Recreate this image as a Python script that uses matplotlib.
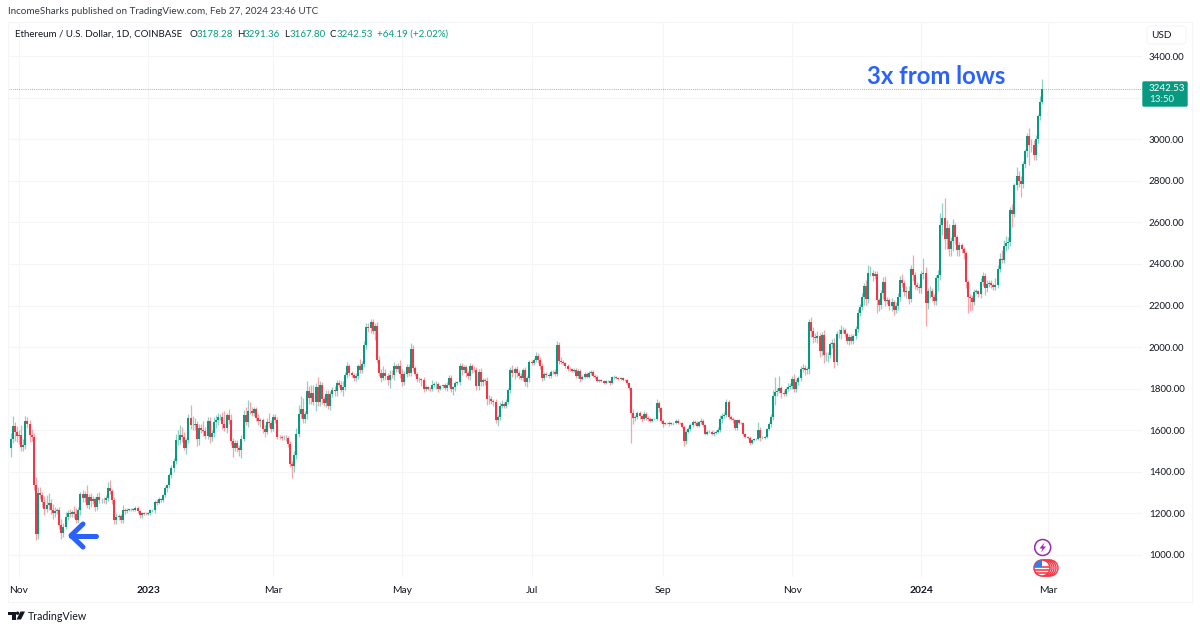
"""ETH/USD daily candles, TradingView snapshot layout."""

import matplotlib as mpl

mpl.use("Agg")
import matplotlib.pyplot as plt
import numpy as np
import pandas as pd
from matplotlib.patches import Circle, FancyBboxPatch, Polygon, Rectangle

W, H = 1200, 631
GREEN = "#089981"
RED = "#f23645"
BLUE = "#2962ff"
GRID = "#f3f5f9"
TEXT = "#131722"
FONT = ["Lato", "DejaVu Sans"]

first_day = "2022-10-27"
first_open = 1530

# closes, month by month
closes = [
    1515, 1556, 1620, 1590, 1572,
    1578, 1520, 1530, 1645, 1630, 1575, 1568, 1335, 1100, 1298, 1287, 1257, 1220, 1240, 1252, 1216, 1200, 1213, 1218, 1142, 1108, 1135, 1184, 1203, 1198, 1206, 1195, 1168, 1218, 1295,
    1275, 1293, 1241, 1280, 1260, 1270, 1232, 1281, 1265, 1266, 1263, 1275, 1320, 1309, 1266, 1166, 1184, 1187, 1167, 1217, 1212, 1218, 1219, 1221, 1218, 1227, 1212, 1190, 1200, 1199, 1197,
    1200, 1215, 1215, 1256, 1251, 1268, 1264, 1288, 1320, 1335, 1384, 1420, 1451, 1551, 1552, 1577, 1567, 1514, 1552, 1660, 1627, 1627, 1629, 1556, 1612, 1603, 1597, 1573, 1646, 1566, 1586,
    1642, 1648, 1664, 1665, 1631, 1613, 1672, 1650, 1546, 1514, 1539, 1515, 1506, 1556, 1674, 1640, 1694, 1691, 1682, 1703, 1660, 1643, 1650, 1605, 1594, 1642, 1634, 1605,
    1663, 1647, 1569, 1567, 1564, 1564, 1562, 1534, 1438, 1430, 1480, 1583, 1680, 1704, 1656, 1676, 1790, 1757, 1780, 1735, 1806, 1736, 1816, 1752, 1733, 1776, 1717, 1773, 1795, 1790, 1825,
    1820, 1795, 1810, 1866, 1909, 1875, 1866, 1849, 1860, 1911, 1892, 1918, 2012, 2098, 2092, 2120, 2076, 2100, 1937, 1875, 1850, 1877, 1862, 1840, 1868, 1866, 1909, 1893, 1907, 1870,
    1831, 1871, 1905, 1877, 1993, 1900, 1872, 1848, 1847, 1842, 1798, 1807, 1800, 1799, 1820, 1822, 1823, 1800, 1812, 1816, 1805, 1819, 1851, 1797, 1806, 1828, 1830, 1909, 1891, 1903, 1874,
    1862, 1907, 1892, 1891, 1813, 1880, 1831, 1841, 1839, 1752, 1752, 1740, 1738, 1650, 1665, 1718, 1727, 1718, 1737, 1792, 1890, 1875, 1895, 1874, 1860, 1850, 1890, 1830, 1852, 1930,
    1923, 1937, 1955, 1937, 1909, 1850, 1869, 1866, 1862, 1879, 1880, 1870, 2008, 1935, 1930, 1922, 1909, 1897, 1893, 1886, 1891, 1860, 1885, 1848, 1857, 1871, 1858, 1875, 1880, 1863, 1856,
    1839, 1840, 1838, 1827, 1835, 1836, 1826, 1855, 1855, 1850, 1848, 1850, 1843, 1840, 1826, 1805, 1685, 1660, 1665, 1683, 1667, 1655, 1680, 1660, 1654, 1645, 1655, 1655, 1730, 1705, 1646,
    1630, 1636, 1635, 1630, 1633, 1635, 1646, 1636, 1635, 1618, 1550, 1592, 1607, 1626, 1640, 1635, 1622, 1640, 1645, 1623, 1584, 1593, 1594, 1582, 1588, 1594, 1600, 1652, 1669, 1671,
    1734, 1664, 1656, 1647, 1611, 1647, 1634, 1633, 1580, 1568, 1565, 1540, 1552, 1556, 1558, 1600, 1565, 1565, 1567, 1605, 1630, 1665, 1763, 1785, 1788, 1803, 1778, 1775, 1800, 1810, 1815,
    1847, 1800, 1833, 1853, 1895, 1900, 1888, 1893, 2120, 2078, 2050, 2045, 2052, 1980, 2060, 1960, 1960, 1963, 2013, 2022, 1930, 2063, 2062, 2082, 2083, 2064, 2028, 2048, 2029, 2052,
    2088, 2165, 2192, 2243, 2294, 2231, 2358, 2358, 2343, 2352, 2225, 2202, 2260, 2315, 2220, 2225, 2197, 2217, 2177, 2200, 2240, 2325, 2310, 2267, 2272, 2230, 2378, 2345, 2300, 2290, 2282,
    2352, 2355, 2210, 2268, 2269, 2240, 2221, 2330, 2345, 2585, 2620, 2520, 2575, 2470, 2510, 2585, 2530, 2467, 2490, 2470, 2455, 2313, 2240, 2235, 2217, 2267, 2268, 2255, 2315, 2343, 2283,
    2303, 2310, 2298, 2290, 2300, 2375, 2425, 2420, 2486, 2500, 2505, 2660, 2640, 2780, 2824, 2800, 2785, 2880, 2945, 3015, 2970, 2970, 2922, 3000, 3112, 3178.28, 3242.53,
]

# wick length above the body of each candle
upper_wicks = [
    40, 30, 50, 20, 30,
    25, 45, 30, 25, 20, 20, 30, 20, 40, 30, 30, 15, 25, 50, 45, 15, 30, 20, 10, 15, 30, 20, 25, 15, 20, 10, 30, 30, 15, 10,
    20, 15, 45, 15, 20, 15, 10, 15, 20, 10, 15, 15, 30, 40, 10, 15, 20, 10, 12, 25, 10, 8, 6, 5, 6, 8, 8, 6, 8, 8, 6,
    6, 8, 8, 10, 12, 10, 8, 6, 12, 8, 10, 12, 15, 30, 50, 50, 40, 25, 10, 20, 60, 40, 30, 15, 20, 20, 40, 20, 20, 20, 15,
    20, 25, 20, 15, 25, 60, 10, 30, 30, 15, 15, 15, 15, 20, 25, 40, 50, 40, 20, 10, 10, 20, 10, 10, 20, 15, 40, 15,
    15, 15, 15, 10, 10, 15, 15, 12, 15, 15, 20, 30, 40, 60, 50, 15, 45, 25, 40, 40, 20, 50, 20, 15, 15, 20, 20, 15, 15, 20, 15,
    15, 15, 25, 15, 20, 10, 10, 10, 15, 10, 30, 15, 15, 20, 20, 15, 15, 15, 20, 20, 20, 30, 20, 15, 20, 20, 20, 10, 15, 30,
    25, 15, 15, 15, 27, 15, 10, 10, 10, 5, 15, 10, 8, 8, 20, 8, 15, 10, 8, 8, 10, 15, 15, 15, 8, 10, 5, 15, 15, 10, 10,
    10, 15, 10, 15, 15, 15, 20, 10, 10, 15, 20, 15, 10, 10, 10, 20, 20, 10, 15, 12, 15, 25, 10, 15, 15, 15, 10, 15, 10, 10,
    10, 10, 20, 15, 15, 15, 10, 10, 10, 10, 10, 15, 20, 15, 15, 10, 8, 8, 8, 8, 8, 8, 8, 8, 8, 8, 8, 8, 8, 8, 8,
    10, 8, 5, 5, 5, 5, 8, 8, 10, 5, 5, 4, 5, 5, 5, 5, 3, 15, 10, 10, 8, 8, 15, 10, 8, 8, 6, 5, 20, 10, 5,
    10, 6, 6, 8, 6, 5, 8, 8, 4, 5, 8, 8, 8, 8, 8, 8, 8, 5, 12, 10, 6, 8, 5, 8, 8, 6, 18, 20, 15, 15,
    16, 10, 8, 8, 6, 8, 5, 5, 5, 6, 6, 6, 5, 6, 5, 40, 15, 8, 6, 8, 12, 15, 30, 70, 15, 60, 10, 15, 10, 15, 10,
    12, 25, 15, 10, 15, 20, 15, 10, 15, 25, 20, 20, 25, 15, 15, 20, 15, 15, 12, 15, 20, 15, 25, 25, 15, 10, 10, 15, 15, 10,
    15, 20, 15, 15, 15, 30, 35, 30, 15, 15, 15, 10, 15, 20, 25, 15, 10, 20, 10, 15, 20, 15, 25, 15, 20, 20, 15, 67, 15, 15, 15,
    15, 75, 30, 15, 25, 15, 15, 15, 25, 60, 72, 96, 35, 15, 20, 30, 10, 10, 15, 10, 10, 5, 8, 15, 15, 12, 10, 8, 15, 20, 15,
    20, 15, 12, 10, 30, 20, 30, 40, 30, 35, 25, 15, 30, 8, 40, 25, 25, 15, 10, 15, 40, 30, 25, 20, 10, 30, 48.83,
]

# wick length below the body of each candle
lower_wicks = [
    30, 45, 15, 40, 30,
    40, 20, 20, 20, 20, 30, 20, 20, 30, 25, 20, 25, 30, 15, 25, 20, 25, 15, 15, 15, 33, 20, 10, 15, 15, 15, 15, 15, 15, 25,
    20, 20, 15, 20, 30, 15, 20, 15, 15, 15, 15, 20, 15, 15, 20, 15, 15, 15, 15, 15, 15, 10, 8, 6, 8, 6, 8, 10, 12, 6, 6,
    6, 8, 6, 12, 10, 8, 8, 8, 10, 15, 15, 15, 20, 15, 20, 20, 25, 10, 30, 15, 20, 25, 25, 30, 25, 15, 25, 15, 15, 25, 20,
    20, 30, 25, 15, 25, 15, 25, 20, 15, 45, 15, 20, 30, 40, 10, 15, 25, 15, 15, 15, 15, 20, 25, 20, 25, 10, 20, 15,
    10, 12, 12, 10, 10, 10, 12, 15, 15, 60, 30, 20, 15, 20, 20, 20, 20, 30, 30, 15, 40, 20, 20, 25, 15, 20, 15, 20, 15, 25, 25,
    10, 10, 30, 15, 15, 15, 10, 10, 12, 15, 15, 15, 15, 20, 20, 25, 15, 40, 15, 15, 20, 10, 20, 20, 35, 15, 25, 15, 15, 20,
    20, 15, 15, 15, 15, 15, 10, 15, 15, 30, 15, 10, 8, 8, 10, 10, 25, 15, 8, 8, 10, 15, 10, 15, 25, 15, 10, 10, 25, 15, 20,
    15, 20, 15, 10, 20, 20, 20, 20, 20, 30, 25, 15, 20, 15, 30, 15, 10, 10, 10, 10, 15, 20, 30, 20, 15, 10, 15, 15, 20, 20,
    10, 10, 10, 15, 15, 15, 10, 10, 10, 10, 10, 8, 10, 15, 10, 10, 10, 10, 8, 8, 8, 8, 8, 15, 8, 8, 8, 8, 8, 8, 8,
    8, 8, 5, 5, 5, 5, 8, 5, 8, 5, 5, 4, 5, 5, 8, 10, 145, 30, 15, 10, 15, 15, 8, 10, 10, 5, 5, 5, 8, 15, 12,
    12, 6, 5, 8, 5, 8, 6, 8, 4, 8, 25, 15, 6, 10, 8, 8, 8, 8, 10, 8, 6, 8, 4, 6, 8, 6, 8, 8, 15, 8,
    6, 12, 8, 10, 8, 8, 6, 5, 8, 6, 6, 12, 6, 6, 5, 6, 15, 8, 8, 6, 6, 12, 15, 40, 20, 10, 25, 12, 10, 10, 10,
    15, 15, 15, 15, 15, 15, 20, 15, 20, 30, 30, 20, 25, 30, 25, 35, 25, 30, 15, 15, 30, 15, 20, 25, 15, 15, 15, 20, 15, 15,
    15, 15, 15, 15, 40, 30, 20, 15, 25, 15, 60, 30, 20, 30, 20, 15, 20, 25, 25, 15, 20, 20, 20, 20, 30, 25, 15, 25, 20, 15, 20,
    20, 25, 110, 25, 30, 20, 20, 20, 60, 20, 45, 50, 50, 30, 30, 50, 35, 30, 30, 15, 30, 30, 75, 60, 40, 15, 12, 15, 20, 20, 30,
    20, 15, 15, 15, 15, 15, 15, 15, 15, 25, 30, 20, 60, 15, 25, 30, 62, 20, 20, 30, 95, 30, 22, 20, 20, 20, 10.48,
]

price_ticks = [1000, 1200, 1400, 1600, 1800, 2000, 2200, 2400, 2600, 2800, 3000, 3200, 3400]
month_ticks = ["2022-11-01", "2023-01-01", "2023-03-01", "2023-05-01", "2023-07-01", "2023-09-01", "2023-11-01", "2024-01-01", "2024-03-01"]
month_labels = ["Nov", "2023", "Mar", "May", "Jul", "Sep", "Nov", "2024", "Mar"]
last_price = 3242.53

legend_parts = [
    (15, "Ethereum / U.S. Dollar, 1D, COINBASE", TEXT),
    (189, "O", TEXT), (197, "3178.28", GREEN),
    (237, "H", TEXT), (244, "3291.36", GREEN),
    (284, "L", TEXT), (290, "3167.80", GREEN),
    (330, "C", TEXT), (337, "3242.53", GREEN),
    (377, "+64.19 (+2.02%)", GREEN),
]

closes = np.array(closes, dtype=float)
opens = np.r_[first_open, closes[:-1]]
highs = np.maximum(opens, closes) + np.array(upper_wicks)
lows = np.minimum(opens, closes) - np.array(lower_wicks)
dates = pd.date_range(first_day, periods=len(closes), freq="D")
origin = pd.Timestamp("2022-11-01")
days = (dates - origin).days.to_numpy()

fig = plt.figure(figsize=(W / 100, H / 100), dpi=100, facecolor="white")

# plot box in pixels: x 8..1142, y 22..577
ax = fig.add_axes([8 / W, 1 - 577 / H, (1142 - 8) / W, (577 - 22) / H])
px_per_day = 2.118
px_per_usd = 0.2079
ax.set_xlim((8 - 19) / px_per_day, (1142 - 19) / px_per_day)
ax.set_ylim(1000 + (555 - 577) / px_per_usd, 1000 + (555 - 22) / px_per_usd)

up = closes >= opens
for mask, color in ((up, GREEN), (~up, RED)):
    ax.vlines(days[mask], lows[mask], highs[mask], color=color, lw=0.9, alpha=0.45, zorder=3)
    seg = ax.vlines(days[mask], np.minimum(opens, closes)[mask], np.maximum(opens, closes)[mask],
                    color=color, lw=1.45, zorder=4)
    seg.set_capstyle("butt")

ax.axhline(last_price, color=GREEN, lw=0.7, ls=(0, (1, 1.2)), alpha=0.55, zorder=2)

ax.yaxis.tick_right()
ax.set_yticks(price_ticks)
# the price tag covers the 3200 label in the original
ax.set_yticklabels(["" if p == 3200 else f"{p:.2f}" for p in price_ticks], fontsize=7, color=TEXT, family=FONT)
ax.set_xticks([(pd.Timestamp(m) - origin).days for m in month_ticks])
ax.set_xticklabels(month_labels, fontsize=7.4, color=TEXT, family=FONT)
for lab, text in zip(ax.get_xticklabels(), month_labels):
    if text.startswith("20"):
        lab.set_fontweight("bold")
ax.tick_params(length=0, axis="y", pad=5)
ax.tick_params(length=0, axis="x", pad=6.5)
ax.grid(True, color=GRID, lw=0.8, zorder=0)
ax.set_axisbelow(True)
for side in ax.spines.values():
    side.set_visible(False)

# everything that is not a data mark goes on a pixel-space overlay
ov = fig.add_axes([0, 0, 1, 1], zorder=5)
ov.set_xlim(0, W)
ov.set_ylim(H, 0)
ov.axis("off")
ov.patch.set_alpha(0)

ov.add_patch(Rectangle((8, 22), 1184, 580, fill=False, ec=GRID, lw=0.8))
ov.text(8, 12, "IncomeSharks published on TradingView.com, Feb 27, 2024 23:46 UTC",
        fontsize=7.15, color="#363a45", va="center", family=FONT)
for x, part, color in legend_parts:
    ov.text(x, 34.5, part, fontsize=7, color=color, va="center", family=FONT)

ov.add_patch(FancyBboxPatch((1147, 26), 39, 18, boxstyle="round,pad=0,rounding_size=3", fc="white", ec=GRID, lw=0.8))
ov.text(1161, 35, "USD", fontsize=7.2, color=TEXT, va="center", ha="center", family=FONT)

ov.add_patch(FancyBboxPatch((1143, 82), 44, 24, boxstyle="round,pad=0,rounding_size=1", fc=GREEN, ec=GREEN, lw=1))
ov.text(1149, 88.5, f"{last_price:.2f}", fontsize=7, color="white", va="center", family=FONT)
ov.text(1149, 100, "13:50", fontsize=7, color="white", va="center", family=FONT, alpha=0.9)

ov.text(867, 77, "3x from lows", fontsize=17.2, color=BLUE, va="center", family=FONT, fontweight="bold")

# hand-drawn arrow at the low
ov.plot([71, 96], [535.5, 535.5], color=BLUE, lw=3.6, solid_capstyle="round")
ov.plot([83, 71, 83], [524, 535.5, 547], color=BLUE, lw=3.6, solid_capstyle="round", solid_joinstyle="round")

# logo and wordmark
ov.add_patch(Polygon([(8, 611.5), (15.5, 611.5), (15.5, 619.5), (12, 619.5), (12, 615), (8, 615)], fc=TEXT, ec="none"))
ov.add_patch(Circle((17.6, 613.2), 1.7, fc=TEXT, ec="none"))
ov.add_patch(Polygon([(20.5, 611.5), (25, 611.5), (21, 619.5), (16.5, 619.5)], fc=TEXT, ec="none"))
ov.text(28, 616, "TradingView", fontsize=7.7, color=TEXT, va="center", family=FONT)

# event icons near the last bar
ov.add_patch(Circle((1042.7, 547.5), 8, fc="white", ec="#9c27b0", lw=1.1))
ov.add_patch(Polygon([(1044.5, 542.5), (1039.5, 548.5), (1042.5, 548.5), (1041, 552.5), (1046, 546.5), (1043, 546.5)],
                     fc="#9c27b0", ec="none"))
for cx in (1050, 1048, 1046, 1044):
    ov.add_patch(Circle((cx, 568), 8, fc="white", ec=RED, lw=1))
badge = Circle((1042, 568), 8, fc="white", ec=RED, lw=1.1)
ov.add_patch(badge)
for sy in (566, 569, 572):
    ov.add_patch(Rectangle((1034, sy), 16, 1.5, fc=RED, ec="none", alpha=0.8, clip_path=badge))
ov.add_patch(Rectangle((1034, 560), 8, 7, fc="#2f80ed", ec="none", clip_path=badge))

fig.savefig("out.png", dpi=100)
plt.close(fig)
